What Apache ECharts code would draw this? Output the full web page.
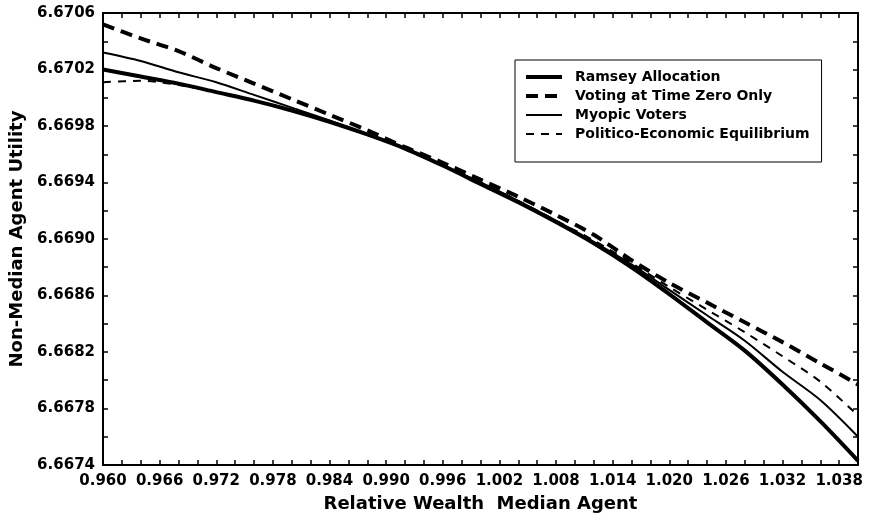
<!DOCTYPE html>
<html>
<head>
<meta charset="utf-8">
<script src="https://cdn.jsdelivr.net/npm/echarts@6/dist/echarts.min.js"></script>
<style>
  html, body { margin: 0; padding: 0; background: #fff; }
  #chart { width: 869px; height: 520px; }
</style>
</head>
<body>
<div id="chart"></div>
<script>
// relative wealth of the median agent
const xValues = [0.960, 0.964, 0.968, 0.972, 0.976, 0.980, 0.984, 0.988, 0.992, 0.996,
  1.000, 1.004, 1.008, 1.012, 1.016, 1.020, 1.024, 1.028, 1.032, 1.036, 1.040];

// non-median agent utility
const ramsey = [6.67020, 6.67015, 6.67010, 6.67004, 6.66998, 6.66991, 6.66983, 6.66974, 6.66964, 6.66952,
  6.66939, 6.66926, 6.66912, 6.66897, 6.66880, 6.66861, 6.66841, 6.66821, 6.66797, 6.66771, 6.66743];
const voting = [6.67052, 6.67042, 6.67033, 6.67021, 6.67010, 6.66999, 6.66988, 6.66977, 6.66965, 6.66954,
  6.66942, 6.66930, 6.66917, 6.66903, 6.66885, 6.66869, 6.66855, 6.66841, 6.66827, 6.66812, 6.66797];
const myopic = [6.67032, 6.67026, 6.67018, 6.67011, 6.67002, 6.66993, 6.66984, 6.66974, 6.66964, 6.66952,
  6.66940, 6.66927, 6.66913, 6.66898, 6.66882, 6.66864, 6.66846, 6.66828, 6.66806, 6.66786, 6.66760];
const politico = [6.67011, 6.67012, 6.67009, 6.67004, 6.66998, 6.66991, 6.66983, 6.66974, 6.66964, 6.66952,
  6.66940, 6.66927, 6.66913, 6.66899, 6.66883, 6.66866, 6.66850, 6.66834, 6.66817, 6.66799, 6.66775];

const seriesNames = ['Ramsey Allocation', 'Voting at Time Zero Only', 'Myopic Voters', 'Politico-Economic Equilibrium'];

const font = 'DejaVu Sans';
let myChart = echarts.init(document.getElementById('chart'));

const tickStyle = { show: true, inside: true, length: 5, lineStyle: { color: '#000', width: 1.5 } };
const lineAxis = { show: true, lineStyle: { color: '#000', width: 2 } };

// line styles per series, shared by the plot and the legend
const styles = [
  { color: '#000', width: 4, type: 'solid' },
  { color: '#000', width: 4, type: [12, 7] },
  { color: '#000', width: 2, type: 'solid' },
  { color: '#000', width: 2, type: [8, 7] }
];

const pairs = (arr) => xValues.map((x, i) => [x, arr[i]]);

let option = {
  backgroundColor: '#fff',
  animation: false,
  grid: { left: 103, right: 11, top: 13, bottom: 55 },
  legend: {
    orient: 'vertical',
    left: 515,
    top: 60,
    data: seriesNames.map((n, i) => ({ name: n, lineStyle: styles[i] })),
    itemWidth: 36,
    itemHeight: 12,
    itemGap: 5,
    padding: [10, 12, 21, 9],
    borderColor: '#000',
    borderWidth: 1,
    backgroundColor: '#fff',
    // hide the circle ECharts puts on line legend icons
    itemStyle: { opacity: 0, color: 'rgba(0,0,0,0)', borderWidth: 0 },
    textStyle: {
      color: '#000', fontFamily: font, fontWeight: 'bold', fontSize: 14,
      padding: [0, 0, 0, 8]
    }
  },
  xAxis: [
    {
      type: 'value',
      min: 0.96,
      max: 1.04,
      interval: 0.002,
      position: 'bottom',
      axisLine: lineAxis,
      axisTick: tickStyle,
      splitLine: { show: false },
      axisLabel: {
        color: '#000', fontFamily: font, fontWeight: 'bold', fontSize: 15, margin: 9,
        formatter: (v, idx) => (idx % 3 === 0 ? v.toFixed(3) : '')
      },
      name: 'Relative Wealth  Median Agent',
      nameLocation: 'middle',
      nameGap: 30,
      nameTextStyle: { color: '#000', fontFamily: font, fontWeight: 'bold', fontSize: 18 }
    },
    {
      type: 'value',
      min: 0.96,
      max: 1.04,
      interval: 0.002,
      position: 'top',
      axisLine: lineAxis,
      axisTick: tickStyle,
      splitLine: { show: false },
      axisLabel: { show: false }
    }
  ],
  yAxis: [
    {
      type: 'value',
      min: 6.6674,
      max: 6.6706,
      interval: 0.0002,
      position: 'left',
      axisLine: lineAxis,
      axisTick: tickStyle,
      splitLine: { show: false },
      axisLabel: {
        color: '#000', fontFamily: font, fontWeight: 'bold', fontSize: 15, margin: 8,
        formatter: (v, idx) => (idx % 2 === 0 ? v.toFixed(4) : '')
      },
      name: 'Non-Median Agent Utility',
      nameLocation: 'middle',
      nameGap: 75,
      nameTextStyle: { color: '#000', fontFamily: font, fontWeight: 'bold', fontSize: 18 }
    },
    {
      type: 'value',
      min: 6.6674,
      max: 6.6706,
      interval: 0.0002,
      position: 'right',
      axisLine: lineAxis,
      axisTick: tickStyle,
      splitLine: { show: false },
      axisLabel: { show: false }
    }
  ],
  series: [ramsey, voting, myopic, politico].map((arr, i) => ({
    name: seriesNames[i],
    type: 'line',
    data: pairs(arr),
    smooth: 0.3,
    symbol: 'none',
    lineStyle: styles[i],
    itemStyle: { color: '#000' }
  }))
};

myChart.setOption(option);
</script>
</body>
</html>
